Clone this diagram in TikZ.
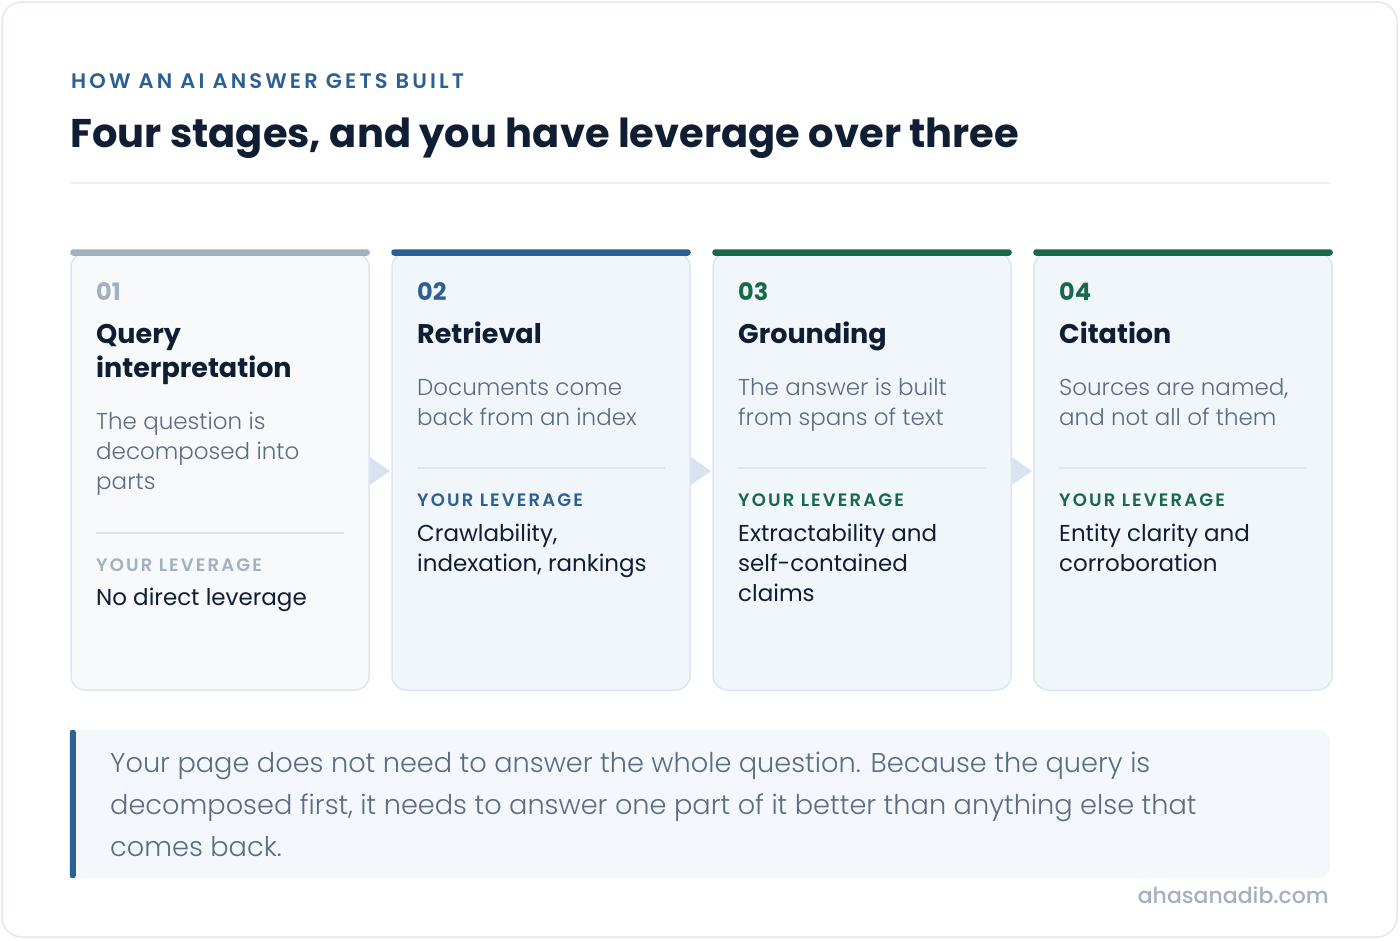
\documentclass[tikz,border=0pt]{standalone}
\usepackage{fontspec}
\usetikzlibrary{calc}
\setmainfont{Poppins}
\newfontfamily\pLight{Poppins Light}
\newfontfamily\pReg{Poppins}
\newfontfamily\pMed{Poppins Medium}
\newfontfamily\pSemi{Poppins SemiBold}[LetterSpace=12]
\newfontfamily\pBold{Poppins Bold}
\newfontfamily\pHead{Poppins SemiBold}[LetterSpace=15]
\definecolor{ink}{HTML}{0F1E33}
\definecolor{bodyc}{HTML}{5A6B82}
\definecolor{bluec}{HTML}{2C5F93}
\definecolor{greenc}{HTML}{17694A}
\definecolor{grayc}{HTML}{A3B0C0}
\definecolor{framec}{HTML}{E2E8F0}
\definecolor{rulec}{HTML}{EAEFF5}
\definecolor{cardline}{HTML}{DDE6F0}
\definecolor{cardA}{HTML}{F7F9FB}
\definecolor{cardB}{HTML}{F1F6FB}
\definecolor{arrowc}{HTML}{D8E3EE}
\definecolor{notefill}{HTML}{F4F8FC}
\tikzset{
  txt/.style={inner sep=0pt, anchor=base west, align=left},
  card/.style={draw=cardline, line width=1.5pt, rounded corners=14pt,
    minimum width=298pt, minimum height=437pt, inner sep=0pt},
  numtxt/.style={txt, font=\pBold\fontsize{24}{28}\selectfont},
  ttltxt/.style={txt, font=\pBold\fontsize{27}{34}\selectfont, text=ink},
  bodytxt/.style={txt, font=\pLight\fontsize{23}{30}\selectfont, text=bodyc},
  levtitle/.style={txt, font=\pSemi\fontsize{18}{22}\selectfont},
  levtxt/.style={txt, font=\pReg\fontsize{23}{30}\selectfont, text=ink},
  divline/.style={draw=cardline, line width=1.5pt},
  topbar/.style={rounded corners=3pt},
  flowarrow/.style={fill=arrowc},
}
\begin{document}
\begin{tikzpicture}[x=1pt,y=-1pt]
\useasboundingbox (0,0) rectangle (1400,940);
\fill[white] (0,0) rectangle (1400,940);
\draw[framec, line width=1.5pt, rounded corners=20pt, fill=white] (2,2) rectangle (1397,937);

% header
\node[txt, font=\pHead\fontsize{21}{25}\selectfont, text=bluec] (kicker) at (71,88) {HOW AN AI ANSWER GETS BUILT};
\node[txt, font=\pBold\fontsize{40}{46}\selectfont, text=ink] (title) at (70,147) {Four stages, and you have leverage over three};
\draw[rulec, line width=1.5pt] (71,183) -- (1330,183);

% flow arrows
\coordinate (a1) at (369,471);
\coordinate (a2) at (690,471);
\coordinate (a3) at (1011,471);
\foreach \a in {a1,a2,a3}{
  \fill[flowarrow] ($(\a)+(-2,-16)$) -- ($(\a)+(21,0)$) -- ($(\a)+(-2,16)$) -- cycle;
}

% cards
\node[card, fill=cardA] (c1) at (220,471.5) {};
\node[card, fill=cardB] (c2) at (541,471.5) {};
\node[card, fill=cardB] (c3) at (862,471.5) {};
\node[card, fill=cardB] (c4) at (1183,471.5) {};
\fill[grayc, topbar] ($(c1.north west)+(0,-3)$) rectangle ($(c1.north east)+(0,3.5)$);
\fill[bluec, topbar] ($(c2.north west)+(0,-3)$) rectangle ($(c2.north east)+(0,3.5)$);
\fill[greenc, topbar] ($(c3.north west)+(0,-3)$) rectangle ($(c3.north east)+(0,3.5)$);
\fill[greenc, topbar] ($(c4.north west)+(0,-3)$) rectangle ($(c4.north east)+(0,3.5)$);

% card 1 (multi-line nodes are placed by the baseline of their last line)
\node[numtxt, text=grayc] (n1) at (96,300) {01};
\node[ttltxt] (t1) at (96,377) {Query\\interpretation};
\node[bodytxt] (b1) at (96,489) {The question is\\decomposed into\\parts};
\draw[divline] (96,533) -- (344,533);
\node[levtitle, text=grayc] (l1) at (96,571) {YOUR LEVERAGE};
\node[levtxt] (v1) at (96,605) {No direct leverage};

% card 2
\node[numtxt, text=bluec] (n2) at (417,300) {02};
\node[ttltxt] (t2) at (417,343) {Retrieval};
\node[bodytxt] (b2) at (417,425) {Documents come\\back from an index};
\draw[divline] (417,468) -- (665,468);
\node[levtitle, text=bluec] (l2) at (417,506) {YOUR LEVERAGE};
\node[levtxt] (v2) at (417,571) {Crawlability,\\indexation, rankings};

% card 3
\node[numtxt, text=greenc] (n3) at (738,300) {03};
\node[ttltxt] (t3) at (738,343) {Grounding};
\node[bodytxt] (b3) at (738,425) {The answer is built\\from spans of text};
\draw[divline] (738,468) -- (986,468);
\node[levtitle, text=greenc] (l3) at (738,506) {YOUR LEVERAGE};
\node[levtxt] (v3) at (738,601) {Extractability and\\self-contained\\claims};

% card 4
\node[numtxt, text=greenc] (n4) at (1059,300) {04};
\node[ttltxt] (t4) at (1059,343) {Citation};
\node[bodytxt] (b4) at (1059,425) {Sources are named,\\and not all of them};
\draw[divline] (1059,468) -- (1307,468);
\node[levtitle, text=greenc] (l4) at (1059,506) {YOUR LEVERAGE};
\node[levtxt] (v4) at (1059,571) {Entity clarity and\\corroboration};

% note
\node[fill=notefill, rounded corners=12pt, minimum width=1260pt, minimum height=148pt, inner sep=0pt] (note) at (700,804) {};
\fill[notefill] (note.north west) rectangle ($(note.south west)+(20,0)$);
\fill[bluec, rounded corners=2.5pt] ($(note.north west)+(0,0)$) rectangle ($(note.south west)+(6,0)$);
\node[txt, font=\pLight\fontsize{27.2}{42}\selectfont, text=bodyc] (notetxt) at (110,856)
  {Your page does not need to answer the whole question. Because the query is\\decomposed first, it needs to answer one part of it better than anything else that\\comes back.};

% footer
\node[inner sep=0pt, anchor=base east, font=\pMed\fontsize{22}{26}\selectfont, text=grayc] (site) at (1329,903) {ahasanadib.com};
\end{tikzpicture}
\end{document}
